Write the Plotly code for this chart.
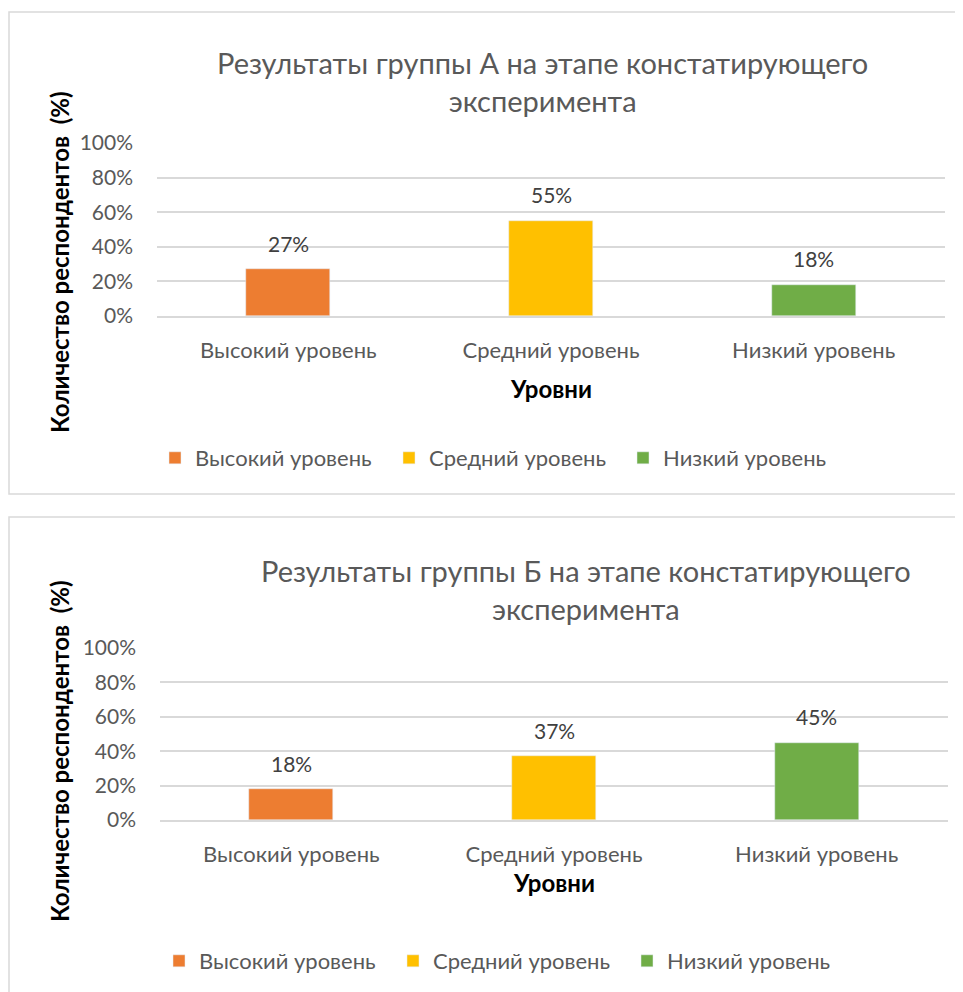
import plotly.graph_objects as go

W, H = 963, 992
OFF = 8  # page body margin of the html page

categories = ["Высокий уровень", "Средний уровень", "Низкий уровень"]
values_a = [0.27, 0.55, 0.18]
values_b = [0.18, 0.37, 0.45]
colors = ["#ED7D31", "#FFC000", "#70AD47"]
title_a = "Результаты группы А на этапе констатирующего<br>эксперимента"
title_b = "Результаты группы Б на этапе констатирующего<br>эксперимента"
y_title = "Количество респондентов  (%)"
x_title = "Уровни"
y_ticks = [0, 0.2, 0.4, 0.6, 0.8, 1.0]

FONT = "Lato"
GREY = "#595959"


def px(x):
    return (x - OFF) / W


def py(y):
    return 1 - (y - OFF) / H


fig = go.Figure()

for i, (cat, col) in enumerate(zip(categories, colors)):
    fig.add_trace(go.Bar(
        x=[cat], y=[values_a[i]], name=cat, marker_color=col, width=0.32,
        xaxis="x", yaxis="y", legend="legend",
    ))
for i, (cat, col) in enumerate(zip(categories, colors)):
    fig.add_trace(go.Bar(
        x=[cat], y=[values_b[i]], name=cat, marker_color=col, width=0.32,
        xaxis="x2", yaxis="y2", legend="legend2",
    ))

yax = dict(range=[0, 1], tickvals=y_ticks, tickformat=".0%", showgrid=True,
           gridcolor="#D9D9D9", gridwidth=1.5, zeroline=False, showline=False,
           tickfont=dict(size=21, color=GREY, family=FONT), ticklabelstandoff=23,
           automargin=False, fixedrange=True)
xax = dict(categoryorder="array", categoryarray=categories, showline=True,
           linecolor="#D9D9D9", linewidth=1.5, showgrid=False,
           tickfont=dict(size=22, color=GREY, family=FONT), ticklabelstandoff=14,
           automargin=False)

legend_common = dict(orientation="h", xanchor="left", yanchor="middle",
                     xref="container", yref="container",
                     font=dict(size=22, color=GREY, family=FONT), itemwidth=30,
                     entrywidth=189, entrywidthmode="pixels",
                     traceorder="normal")

fig.update_layout(
    width=W, height=H, margin=dict(l=0, r=0, t=0, b=0, autoexpand=False),
    paper_bgcolor="white", plot_bgcolor="white",
    barmode="overlay", bargap=0,
    font=dict(family=FONT, color=GREY),
    xaxis=dict(xax, domain=[px(157), px(945)], anchor="y"),
    yaxis=dict(yax, domain=[py(316), py(143)], anchor="x"),
    xaxis2=dict(xax, domain=[px(160), px(948)], anchor="y2"),
    yaxis2=dict(yax, domain=[py(820), py(648)], anchor="x2"),
    legend=dict(legend_common, x=px(155), y=py(458)),
    legend2=dict(legend_common, x=px(159), y=py(961)),
    showlegend=True,
)

# chart frames
fig.add_shape(type="rect", xref="paper", yref="paper", x0=px(9), x1=px(985),
              y0=py(494), y1=py(12), line=dict(color="#D9D9D9", width=1.5), layer="below")
fig.add_shape(type="rect", xref="paper", yref="paper", x0=px(9), x1=px(985),
              y0=py(1010), y1=py(517), line=dict(color="#D9D9D9", width=1.5), layer="below")

ann = []
# data labels, positioned from the data values
for vals, xr, yr in ((values_a, "x", "y"), (values_b, "x2", "y2")):
    for cat, v in zip(categories, vals):
        ann.append(dict(text=f"{round(v*100)}%", x=cat, y=v, xref=xr, yref=yr,
                        showarrow=False, yshift=26, xanchor="center", yanchor="middle",
                        font=dict(size=21, color="#404040", family=FONT)))

ann.append(dict(text=title_a, x=px(542), y=py(81), xref="paper", yref="paper",
                showarrow=False, font=dict(size=29, color=GREY, family=FONT),
                xanchor="center", yanchor="middle"))
ann.append(dict(text=title_b, x=px(586), y=py(589), xref="paper", yref="paper",
                showarrow=False, font=dict(size=29, color=GREY, family=FONT),
                xanchor="center", yanchor="middle"))
for yc in (262, 751):
    ann.append(dict(text=f"<b>{y_title}</b>", x=px(59), y=py(yc), xref="paper", yref="paper",
                    showarrow=False, textangle=-90,
                    font=dict(size=24, color="black", family=FONT),
                    xanchor="center", yanchor="middle"))
ann.append(dict(text=f"<b>{x_title}</b>", x=px(551), y=py(388), xref="paper", yref="paper",
                showarrow=False, font=dict(size=24, color="black", family=FONT),
                xanchor="center", yanchor="middle"))
ann.append(dict(text=f"<b>{x_title}</b>", x=px(554), y=py(882), xref="paper", yref="paper",
                showarrow=False, font=dict(size=24, color="black", family=FONT),
                xanchor="center", yanchor="middle"))
fig.update_layout(annotations=ann)

fig.write_html("out.html")
